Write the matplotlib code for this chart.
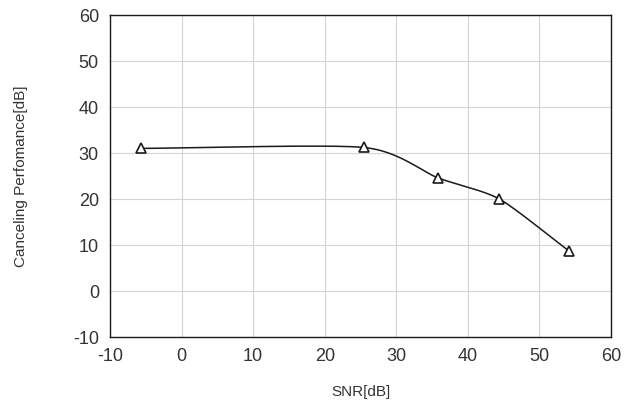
import numpy as np
import matplotlib
matplotlib.use("Agg")
import matplotlib.pyplot as plt

plt.rcParams['font.family'] = ['Liberation Sans', 'DejaVu Sans']
plt.rcParams['axes.unicode_minus'] = False

snr = [-5.7, 25.5, 35.8, 44.4, 54.2]
performance = [31.0, 31.2, 24.6, 20.0, 8.6]


def smooth_curve(xs, ys, n=40):
    # Catmull-Rom style smoothing, like a spreadsheet "smoothed line"
    x = np.array(xs, dtype=float)
    y = np.array(ys, dtype=float)
    px = np.concatenate([[2 * x[0] - x[1]], x, [2 * x[-1] - x[-2]]])
    py = np.concatenate([[2 * y[0] - y[1]], y, [2 * y[-1] - y[-2]]])
    out_x, out_y = [], []
    t = np.linspace(0, 1, n)
    for i in range(1, len(px) - 2):
        for arr, out in ((px, out_x), (py, out_y)):
            p0, p1, p2, p3 = arr[i - 1], arr[i], arr[i + 1], arr[i + 2]
            m1 = (p2 - p0) / 2 * 0.7
            m2 = (p3 - p1) / 2 * 0.7
            h00 = 2 * t**3 - 3 * t**2 + 1
            h10 = t**3 - 2 * t**2 + t
            h01 = -2 * t**3 + 3 * t**2
            h11 = t**3 - t**2
            out.extend(h00 * p1 + h10 * m1 + h01 * p2 + h11 * m2)
    return out_x, out_y


fig = plt.figure(figsize=(6.26, 4.03), dpi=100)
ax = fig.add_axes([110 / 626, 66 / 403, 501 / 626, 322 / 403])

cx, cy = smooth_curve(snr, performance)
ax.plot(cx, cy, color='#1a1a1a', linewidth=1.1)
ax.plot(snr, performance, linestyle='none', marker='^', markersize=7,
        markerfacecolor='white', markeredgecolor='#1a1a1a', markeredgewidth=1.2)

ax.set_xlim(-10, 60)
ax.set_ylim(-10, 60)
ax.set_xticks(np.arange(-10, 61, 10))
ax.set_yticks(np.arange(-10, 61, 10))
ax.grid(True, color='#d4d4d4', linewidth=0.8)
ax.tick_params(length=0, labelsize=13, colors='#333333', pad=8)
for s in ax.spines.values():
    s.set_color('#1a1a1a')
    s.set_linewidth(1.0)

ax.set_xlabel('SNR[dB]', fontsize=11, color='#333333', labelpad=14)
ax.set_ylabel('Canceling Perfomance[dB]', fontsize=11, color='#333333', labelpad=32)

fig.savefig('out.png', dpi=100)
